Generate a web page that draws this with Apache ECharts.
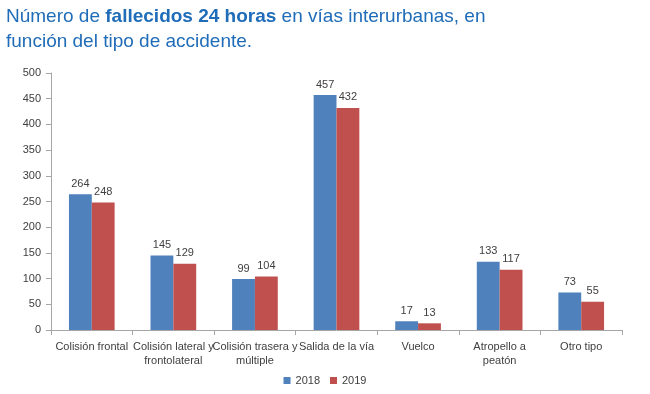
<!DOCTYPE html>
<html><head><meta charset="utf-8">
<script src="https://cdn.jsdelivr.net/npm/echarts@6/dist/echarts.min.js"></script>
<style>html,body{margin:0;padding:0;background:#fff}#c{width:650px;height:394px}</style>
</head><body><div id="c"></div>
<script>
const categories = ["Colisión frontal","Colisión lateral y\nfrontolateral","Colisión trasera y\nmúltiple","Salida de la vía","Vuelco","Atropello a\npeatón","Otro tipo"];
const seriesNames = ["2018","2019"];
const values2018 = [264,145,99,457,17,133,73];
const values2019 = [248,129,104,432,13,117,55];
const yTicks = [0,50,100,150,200,250,300,350,400,450,500];

const chart = echarts.init(document.getElementById('c'));
const lblFont = "'Liberation Sans Narrow','Liberation Sans',Arial,sans-serif";
const ttlFont = "'Liberation Sans',Arial,sans-serif";
chart.setOption({
  animation:false,
  title:{
    text:"Número de {b|fallecidos 24 horas} en vías interurbanas, en\nfunción del tipo de accidente.",
    left:6, top:4, padding:0,
    textStyle:{fontFamily:ttlFont,fontSize:19,fontWeight:'normal',color:'#1F6CB8',lineHeight:25,
      rich:{b:{fontFamily:ttlFont,fontSize:19,fontWeight:'bold',color:'#1F6CB8',lineHeight:25}}}
  },
  legend:{
    bottom:3, left:'center', itemWidth:7, itemHeight:7, itemGap:10,
    icon:'rect',
    textStyle:{fontFamily:lblFont,fontSize:11,color:'#404040'},
    data:seriesNames
  },
  grid:{left:51,right:28,top:73,bottom:64},
  xAxis:{
    type:'category', data:categories,
    axisLine:{lineStyle:{color:'#A6A6A6'}},
    axisTick:{show:true,alignWithLabel:false,length:5,lineStyle:{color:'#A6A6A6'}},
    axisLabel:{interval:0,fontFamily:lblFont,fontSize:11,color:'#404040',margin:10,lineHeight:14}
  },
  yAxis:{
    type:'value', min:yTicks[0], max:yTicks[yTicks.length-1], interval:50,
    axisLine:{show:true,lineStyle:{color:'#A6A6A6'}},
    axisTick:{show:true,length:5,lineStyle:{color:'#A6A6A6'}},
    splitLine:{show:false},
    axisLabel:{fontFamily:lblFont,fontSize:11,color:'#404040',margin:10}
  },
  series:[
    {name:seriesNames[0],type:'bar',data:values2018,barGap:'0%',barCategoryGap:'44%',
     itemStyle:{color:'#4F81BD'},
     label:{show:true,position:'top',fontFamily:lblFont,fontSize:11,color:'#404040',distance:5}},
    {name:seriesNames[1],type:'bar',data:values2019,barGap:'0%',barCategoryGap:'44%',
     itemStyle:{color:'#C0504D'},
     label:{show:true,position:'top',fontFamily:lblFont,fontSize:11,color:'#404040',distance:5}}
  ]
});
</script></body></html>
